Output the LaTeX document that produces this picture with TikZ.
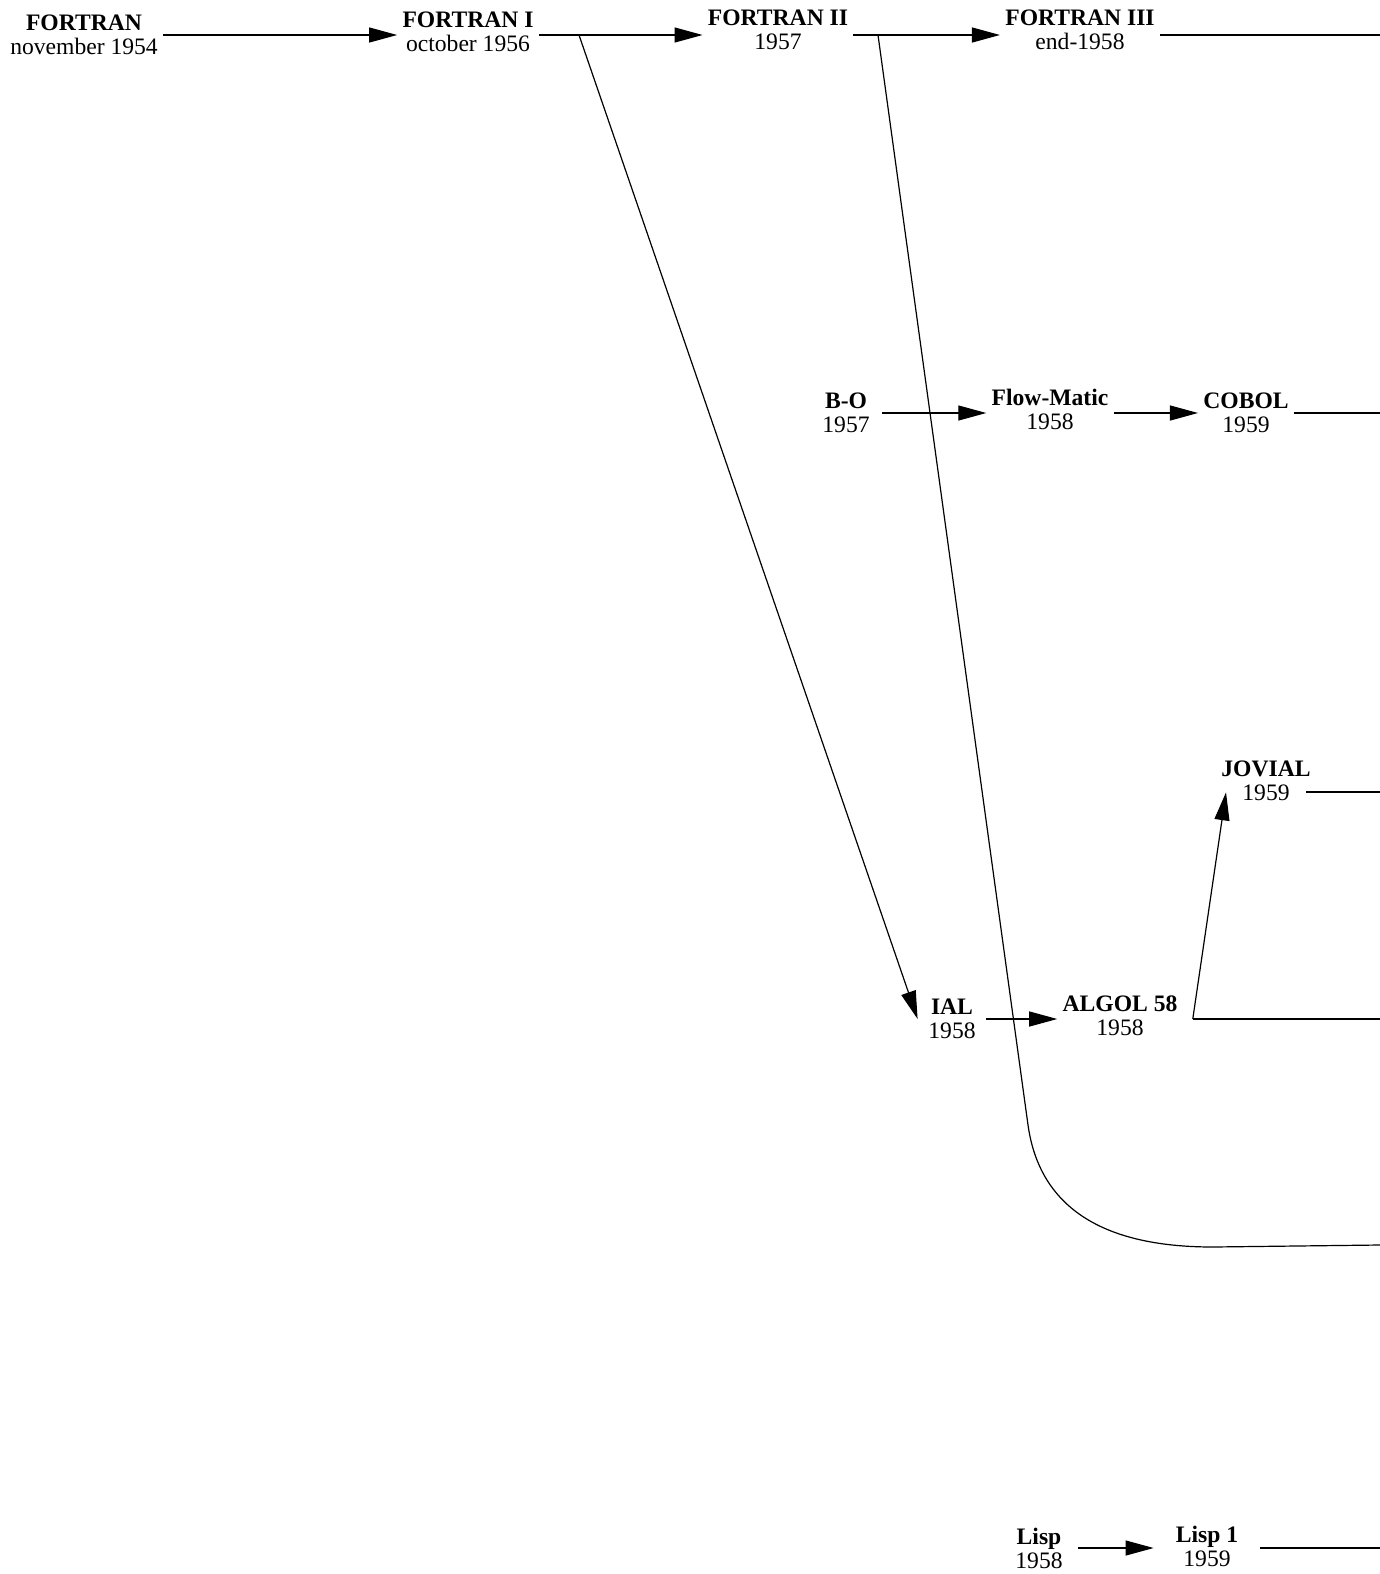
\documentclass[tikz,border=0pt]{standalone}
\usepackage{fontspec}
\setmainfont{Liberation Serif}
\usetikzlibrary{arrows.meta, calc}

\begin{document}
\begin{tikzpicture}[
    x=0.5pt, y=-0.5pt,
    lang/.style={align=center, inner sep=2.5pt, font=\fontsize{11.8}{12}\selectfont},
    arrow/.style={-{Triangle[length=14pt, width=7.5pt]}, line width=0.6pt},
    branch/.style={line width=0.6pt}
]
    \useasboundingbox (0,0) rectangle (1380,1574);

    % FORTRAN line
    \node[lang] (F0) at (84,35) {\textbf{FORTRAN}\\november 1954};
    \node[lang] (F1) at (468,32) {\textbf{FORTRAN I}\\october 1956};
    \node[lang] (F2) at (778,30) {\textbf{FORTRAN II}\\1957};
    \node[lang] (F3) at (1080,30) {\textbf{FORTRAN III}\\end-1958};

    % COBOL line
    \node[lang, minimum width=36pt] (BO) at (846,413) {\textbf{B-O}\\1957};
    \node[lang] (FM) at (1050,409) {\textbf{Flow-Matic}\\1958};
    \node[lang] (COBOL) at (1246,413) {\textbf{COBOL}\\1959};

    % ALGOL line
    \node[lang] (JOV) at (1266,781) {\textbf{JOVIAL}\\1959};
    \node[lang, minimum width=34pt] (IAL) at (952,1019) {\textbf{IAL}\\1958};
    \node[lang] (ALGOL) at (1120,1016) {\textbf{ALGOL 58}\\1958};

    % Lisp line
    \node[lang, minimum width=39pt] (LISP) at (1039,1548) {\textbf{Lisp}\\1958};
    \node[lang, minimum width=53pt] (LISP1) at (1207,1546) {\textbf{Lisp 1}\\1959};

    % branch points and free ends
    \coordinate (b1) at (579,35);
    \coordinate (b2) at (878,35);
    \coordinate (a58) at ([xshift=5pt]ALGOL.east |- IAL);
    \coordinate (jv) at ([xshift=-5pt]JOV.east);
    \coordinate (F3end) at (1380,35);
    \coordinate (F2end) at (1380,1245);
    \coordinate (COBOLend) at (1380,413);
    \coordinate (JOVend) at (1380,792);
    \coordinate (ALGend) at (1380,1019);
    \coordinate (L1end) at (1380,1548);

    % Connectors
    \draw[arrow] (F0) -- (F0 -| F1.west);
    \draw[arrow] (F0 -| F1.east) -- (F0 -| F2.west);
    \draw[arrow] (F0 -| F2.east) -- (F0 -| F3.west);
    \draw[branch] (F0 -| F3.east) -- (F3end);
    \draw[arrow] (b1) -- (IAL.west);
    \draw[branch] (b2) -- (1028,1125) .. controls (1042,1225) and (1130,1247) .. (1213,1247) -- (F2end);

    \draw[arrow] (BO) -- (BO -| FM.west);
    \draw[arrow] (BO -| FM.east) -- (COBOL);
    \draw[branch] (COBOL) -- (COBOLend);

    \draw[arrow] (IAL) -- (IAL -| ALGOL.west);
    \draw[branch] (a58) -- (ALGend);
    \draw[arrow] (a58) -- ([shift={(5pt,7pt)}]JOV.south west);
    \draw[branch] (JOVend -| jv) -- (JOVend);

    \draw[arrow] (LISP) -- (LISP -| LISP1.west);
    \draw[branch] (LISP -| LISP1.east) -- (L1end);

\end{tikzpicture}
\end{document}
